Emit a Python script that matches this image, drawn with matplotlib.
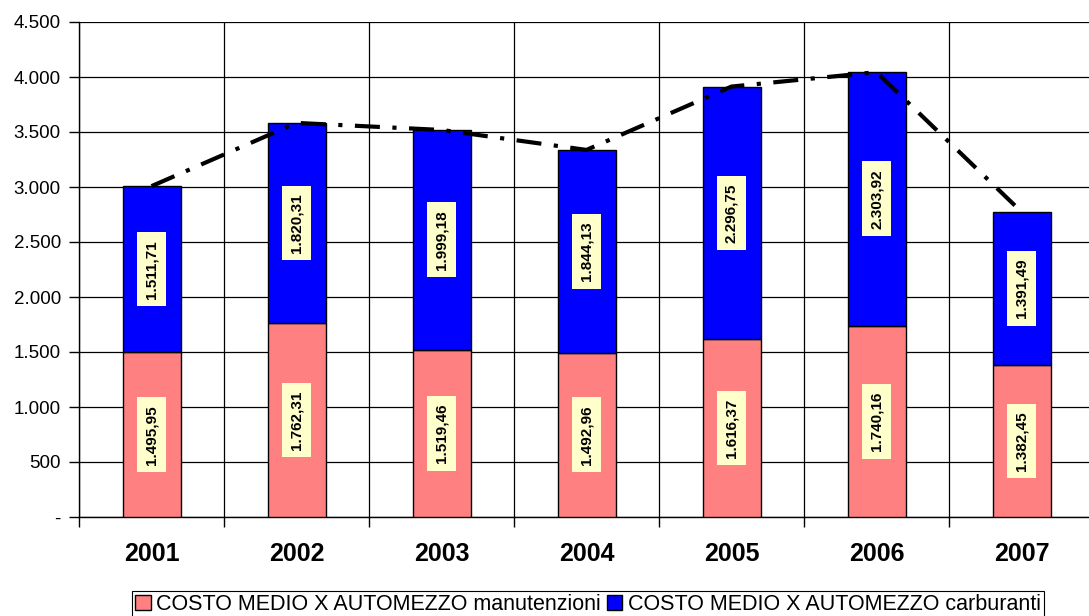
import numpy as np
import matplotlib
matplotlib.use("Agg")
from matplotlib import pyplot as plt
from matplotlib.ticker import FuncFormatter, FixedLocator

plt.rcParams['font.family'] = ['Liberation Sans', 'DejaVu Sans']

years = ["2001", "2002", "2003", "2004", "2005", "2006", "2007"]
manutenzioni = [1495.95, 1762.31, 1519.46, 1492.96, 1616.37, 1740.16, 1382.45]
carburanti = [1511.71, 1820.31, 1999.18, 1844.13, 2296.75, 2303.92, 1391.49]
label_man = "COSTO MEDIO X AUTOMEZZO manutenzioni"
label_carb = "COSTO MEDIO X AUTOMEZZO carburanti"


def it_num(v, dec=0):
    s = f"{v:,.{dec}f}"
    return s.replace(",", "X").replace(".", ",").replace("X", ".")


W, H = 1089, 616
fig = plt.figure(figsize=(W / 100, H / 100), dpi=100)
ax = fig.add_axes([79 / W, 99 / H, 1015 / W, 495 / H])

x = np.arange(len(years))
man = np.array(manutenzioni)
carb = np.array(carburanti)
tot = man + carb

ax.bar(x, man, width=0.4, color='#FF8080', edgecolor='black', linewidth=1, zorder=3,
       label=label_man)
ax.bar(x, carb, bottom=man, width=0.4, color='#0000FF', edgecolor='black', linewidth=1,
       zorder=3, label=label_carb)

box = dict(boxstyle='square,pad=0.5', facecolor='#FFFFCC', edgecolor='none')
for i in range(len(x)):
    ax.text(x[i], man[i] / 2, it_num(man[i], 2), rotation=90, ha='center', va='center',
            fontsize=11, fontweight='bold', bbox=box, zorder=4)
    ax.text(x[i], man[i] + carb[i] / 2, it_num(carb[i], 2), rotation=90, ha='center',
            va='center', fontsize=11, fontweight='bold', bbox=box, zorder=4)

ax.plot(x, tot, color='black', linewidth=3, dashes=(6, 3, 1, 3), zorder=5,
        solid_capstyle='butt', dash_capstyle='butt')

ax.set_xlim(-0.5, len(years) - 0.5)
ax.set_ylim(0, 4500)
ax.yaxis.set_major_locator(FixedLocator(np.arange(0, 4501, 500)))
ax.yaxis.set_major_formatter(FuncFormatter(lambda v, p: '-' if v == 0 else it_num(v)))
ax.set_xticks(x)
ax.set_xticklabels(years, fontsize=18, fontweight='bold')
ax.xaxis.set_minor_locator(FixedLocator(np.arange(-0.5, len(years), 1.0)))
ax.tick_params(axis='x', which='major', length=0, pad=18)
ax.tick_params(axis='x', which='minor', length=7, width=1, direction='out')
ax.tick_params(axis='y', length=7, width=1, labelsize=13.5, pad=6)

ax.grid(axis='y', which='major', color='black', linewidth=0.9, zorder=0)
ax.grid(axis='x', which='minor', color='black', linewidth=0.9, zorder=0)
for s in ['top', 'right']:
    ax.spines[s].set_visible(False)
ax.spines['left'].set_linewidth(1)
ax.spines['bottom'].set_linewidth(1)

leg = fig.legend(loc='upper center', bbox_to_anchor=(588 / W, 1 - 591 / H), ncol=2,
                 fontsize=15.5, frameon=True, fancybox=False, framealpha=1,
                 edgecolor='black', handlelength=0.7, handleheight=0.7,
                 handletextpad=0.25, columnspacing=0.3, borderpad=0.15,
                 borderaxespad=0)
leg.get_frame().set_linewidth(0.8)

fig.savefig("out.png", dpi=100)
